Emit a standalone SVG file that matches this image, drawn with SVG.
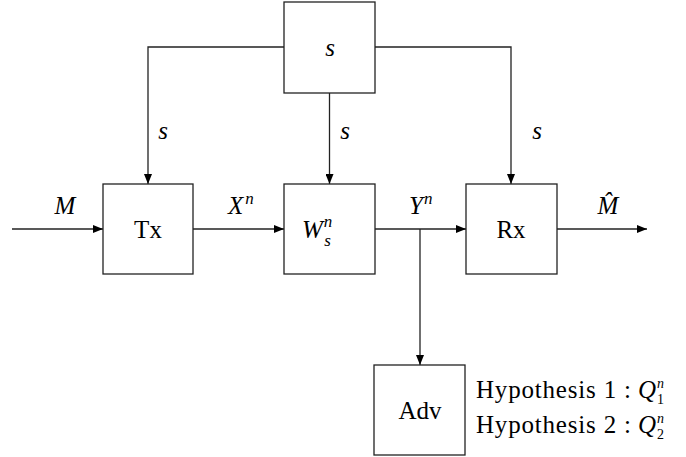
<svg xmlns="http://www.w3.org/2000/svg" width="686" height="457" viewBox="0 0 686 457">
<defs>
<marker id="arr" viewBox="0 0 10 8" refX="10" refY="4" markerWidth="10" markerHeight="8" markerUnits="userSpaceOnUse" orient="auto">
<path d="M0,0 L10,4 L0,8 z" fill="#000"/>
</marker>
</defs>
<style>
.box{fill:#fff;stroke:#222;stroke-width:1.3}
.ln{fill:none;stroke:#222;stroke-width:1.3}
.t{font-family:"Liberation Serif","DejaVu Serif",serif;font-size:25px;fill:#000}
.m{font-family:"Liberation Serif","DejaVu Serif",serif;font-size:25px;font-style:italic;fill:#000}
.sup{font-size:17px}
.sm{font-size:14px}
.up{font-style:normal}
</style>
<rect width="686" height="457" fill="#fff"/>
<g id="connectors">
<path class="ln" d="M12,229 H103" marker-end="url(#arr)"/>
<path class="ln" d="M193,229 H284" marker-end="url(#arr)"/>
<path class="ln" d="M375,229 H466" marker-end="url(#arr)"/>
<path class="ln" d="M557,229 H647" marker-end="url(#arr)"/>
<path class="ln" d="M420,229 V365" marker-end="url(#arr)"/>
<path class="ln" d="M284,47 H148 V184" marker-end="url(#arr)"/>
<path class="ln" d="M329.5,93 V184" marker-end="url(#arr)"/>
<path class="ln" d="M375,47 H511 V184" marker-end="url(#arr)"/>
<text class="m" x="65" y="214" text-anchor="middle">M</text>
<text class="m" x="228" y="214">X<tspan class="sup" dx="2" dy="-10">n</tspan></text>
<text class="m" x="409" y="214">Y<tspan class="sup" dx="1" dy="-10">n</tspan></text>
<text class="m" x="608" y="214" text-anchor="middle">M&#770;</text>
<text class="m" x="163" y="139" text-anchor="middle">s</text>
<text class="m" x="345" y="139" text-anchor="middle">s</text>
<text class="m" x="537" y="139" text-anchor="middle">s</text>
</g>
<g id="node-s">
<rect class="box" x="284" y="2" width="91" height="91"/>
<text class="m" x="330" y="56" text-anchor="middle">s</text>
</g>
<g id="node-tx">
<rect class="box" x="103" y="184" width="90" height="90"/>
<text class="t" x="148" y="238" text-anchor="middle">Tx</text>
</g>
<g id="node-w">
<rect class="box" x="284" y="184" width="91" height="90"/>
<text class="m" x="302" y="238">W<tspan class="sup" dx="1" dy="-11">n</tspan><tspan class="sup" dx="-8" dy="19">s</tspan></text>
</g>
<g id="node-rx">
<rect class="box" x="466" y="184" width="91" height="90"/>
<text class="t" x="511" y="238" text-anchor="middle">Rx</text>
</g>
<g id="node-adv">
<rect class="box" x="374" y="365" width="91" height="90"/>
<text class="t" x="420" y="419" text-anchor="middle">Adv</text>
</g>
<g id="hypotheses">
<text class="t" x="476" y="398" textLength="155" lengthAdjust="spacing">Hypothesis 1 :</text>
<text class="m" x="638" y="398">Q<tspan class="sm" dx="1" dy="-10">n</tspan><tspan class="sm up" dx="-7" dy="16">1</tspan></text>
<text class="t" x="476" y="433" textLength="155" lengthAdjust="spacing">Hypothesis 2 :</text>
<text class="m" x="638" y="433">Q<tspan class="sm" dx="1" dy="-10">n</tspan><tspan class="sm up" dx="-7" dy="16">2</tspan></text>
</g>
</svg>
